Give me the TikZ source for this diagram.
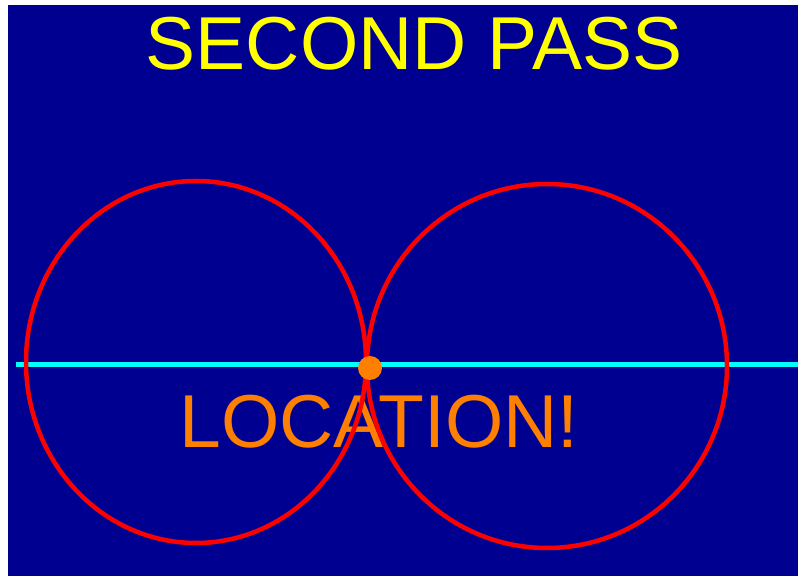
\documentclass[tikz,border=0pt]{standalone}
\usepackage{fontspec}
\setmainfont{Liberation Sans}
\usepackage{xcolor}
\usetikzlibrary{positioning}

\definecolor{screenblue}{RGB}{0,0,144}
\definecolor{passyellow}{RGB}{255,255,0}
\definecolor{dotorange}{RGB}{255,128,0}
\definecolor{linecyan}{RGB}{0,255,255}

\begin{document}
\begin{tikzpicture}[
    x=1pt, y=1pt,
    bigtext/.style={inner sep=0pt, anchor=base, font=\fontsize{75}{75}\selectfont},
    ring/.style={draw=red, line width=4.5pt},
    axis/.style={draw=linecyan, line width=5pt}
]

% page and screen
\fill[white] (0,0) rectangle (798,576);
\fill[screenblue] (8,0) rectangle (798,571);
\useasboundingbox (0,0) rectangle (798,576);

\node[bigtext, text=passyellow] (title) at (414,506) {SECOND PASS};
\node[bigtext, text=dotorange]  (found) at (379,128) {LOCATION!};

\draw[axis] (16,211) -- (798,211);

\draw[ring] (196,214) ellipse [x radius=170, y radius=181];
\draw[ring] (547,210) ellipse [x radius=180, y radius=182];

\fill[dotorange] (370,208) circle (12);

\end{tikzpicture}
\end{document}
